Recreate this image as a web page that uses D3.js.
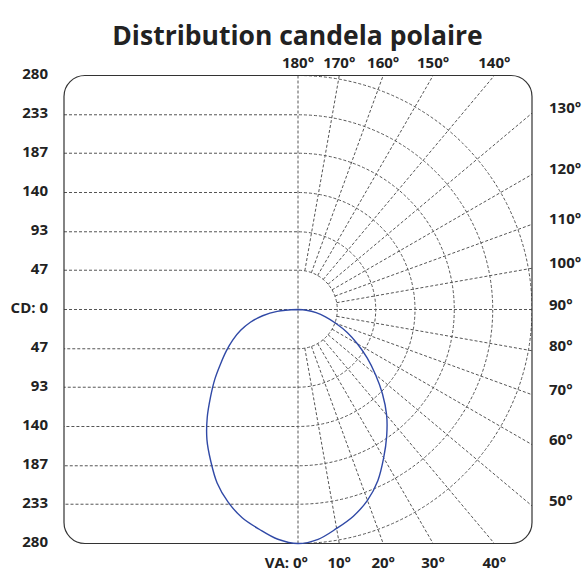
<!DOCTYPE html>
<html>
<head>
<meta charset="utf-8">
<script src="https://cdn.jsdelivr.net/npm/d3@7"></script>
<style>
  body { margin: 0; background: #fff; }
  text { font-family: "Open Sans", sans-serif; font-weight: 700; fill: #222; }
</style>
</head>
<body>
<svg id="chart" width="585" height="571"></svg>
<script>
// vertical angles (deg from nadir) and candela for the two half planes
const vaAngles = [0, 5, 10, 15, 20, 25, 30, 35, 40, 45, 50, 55, 60, 65, 70, 75, 80, 85, 90];
const cdRight = [280, 276, 266, 256, 243, 226, 205, 185, 165, 143, 121, 101, 82, 65, 48, 34, 22, 10, 0];
const cdLeft = [280, 276, 267, 258, 245, 229, 209, 190, 169, 148, 130, 113, 99, 86, 73, 59, 43, 25, 0];

// grid / tick labels
const ringValues = [47, 93, 140, 187, 233, 280];
const radialAngles = [10, 20, 30, 40, 50, 60, 70, 80, 100, 110, 120, 130, 140, 150, 160, 170];
const topLabels = [180, 170, 160, 150, 140];
const rightLabels = [130, 120, 110, 100, 90, 80, 70, 60, 50];
const bottomLabels = [10, 20, 30, 40];

const width = 585, height = 571;
const cx = 298, cy = 309.5;
const maxCd = 280;

const svg = d3.select("#chart");

const r = d3.scaleLinear().domain([0, maxCd]).range([0, 234]);
const R = r(maxCd);
const rad = d => d * Math.PI / 180;

// box edges
const x0 = cx - R, x1 = cx + R, y0 = cy - R, y1 = cy + R;

svg.append("text")
    .attr("x", cx - 0.5)
    .attr("y", 44.5)
    .attr("text-anchor", "middle")
    .style("font-size", "26.5px")
    .text("Distribution candela polaire");

svg.append("defs").append("clipPath")
    .attr("id", "box")
  .append("rect")
    .attr("x", x0).attr("y", y0)
    .attr("width", x1 - x0).attr("height", y1 - y0)
    .attr("rx", 21);

const grid = svg.append("g")
    .attr("clip-path", "url(#box)")
    .attr("fill", "none")
    .attr("stroke", "#555")
    .attr("stroke-width", 1)
    .attr("stroke-dasharray", "3,2");

// rings: horizontal on the left, half circle on the right
grid.selectAll("path.ring").data(ringValues).enter()
    .append("path")
    .attr("class", "ring")
    .attr("d", v => {
        const p = d3.path();
        p.moveTo(x0, cy - r(v));
        p.lineTo(cx, cy - r(v));
        p.arc(cx, cy, r(v), -Math.PI / 2, Math.PI / 2);
        p.lineTo(x0, cy + r(v));
        return p.toString();
    });

// radial lines from the first ring outwards
grid.selectAll("line.spoke").data(radialAngles).enter()
    .append("line")
    .attr("class", "spoke")
    .attr("x1", a => cx + r(ringValues[0]) * Math.sin(rad(a)))
    .attr("y1", a => cy + r(ringValues[0]) * Math.cos(rad(a)))
    .attr("x2", a => cx + 2 * R * Math.sin(rad(a)))
    .attr("y2", a => cy + 2 * R * Math.cos(rad(a)));

// 0 / 180 and 90 axes
grid.append("line").attr("x1", cx).attr("x2", cx).attr("y1", y0).attr("y2", y1);
grid.append("line").attr("x1", x0).attr("x2", x1).attr("y1", cy).attr("y2", cy);

svg.append("rect")
    .attr("x", x0).attr("y", y0)
    .attr("width", x1 - x0).attr("height", y1 - y0)
    .attr("rx", 21)
    .attr("fill", "none")
    .attr("stroke", "#333")
    .attr("stroke-width", 1.2);

// candela curve: left plane from 90 down to 0, then right plane back up to 90
const pts = [];
for (let i = vaAngles.length - 1; i >= 0; i--)
    pts.push([Math.PI + rad(vaAngles[i]), r(cdLeft[i])]);
for (let i = 1; i < vaAngles.length; i++)
    pts.push([Math.PI - rad(vaAngles[i]), r(cdRight[i])]);

const line = d3.lineRadial()
    .angle(d => d[0])
    .radius(d => d[1])
    .curve(d3.curveCatmullRom);

svg.append("path")
    .attr("transform", `translate(${cx},${cy})`)
    .attr("d", line(pts))
    .attr("fill", "none")
    .attr("stroke", "#3049a6")
    .attr("stroke-width", 1.4);

// left candela labels
const leftTicks = ringValues.map(v => ({ y: cy - r(v), t: String(v) }))
    .concat(ringValues.map(v => ({ y: cy + r(v), t: String(v) })))
    .concat([{ y: cy, t: "CD: 0" }]);

svg.selectAll("text.cd").data(leftTicks).enter()
    .append("text")
    .attr("class", "cd")
    .attr("x", x0 - 16)
    .attr("y", d => d.y)
    .attr("dy", "0.23em")
    .attr("text-anchor", "end")
    .style("font-size", "15px")
    .text(d => d.t);

// angle labels around the box
svg.selectAll("text.top").data(topLabels).enter()
    .append("text")
    .attr("x", a => cx - R * Math.tan(rad(a)))
    .attr("y", y0 - 13)
    .attr("dy", "0.36em")
    .attr("text-anchor", "middle")
    .style("font-size", "15px")
    .text(a => a + "°");

svg.selectAll("text.right").data(rightLabels).enter()
    .append("text")
    .attr("x", x1 + 17)
    .attr("y", a => a === 90 ? cy : cy + R / Math.tan(rad(a)))
    .attr("dy", "0em")
    .style("font-size", "15px")
    .text(a => a + "°");

svg.selectAll("text.bottom").data(bottomLabels).enter()
    .append("text")
    .attr("x", a => cx + R * Math.tan(rad(a)))
    .attr("y", y1 + 19)
    .attr("dy", "0.36em")
    .attr("text-anchor", "middle")
    .style("font-size", "15px")
    .text(a => a + "°");

svg.append("text")
    .attr("x", cx + 10)
    .attr("y", y1 + 19)
    .attr("dy", "0.36em")
    .attr("text-anchor", "end")
    .style("font-size", "15px")
    .text("VA: 0°");
</script>
</body>
</html>
